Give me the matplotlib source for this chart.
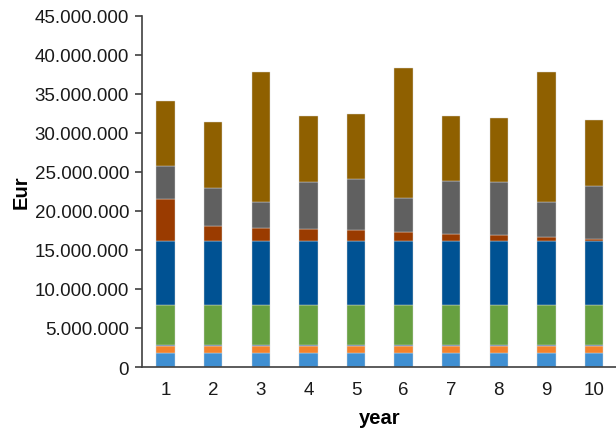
import matplotlib.pyplot as plt
import matplotlib.ticker as mticker
import numpy as np

plt.rcParams['font.family'] = ['Liberation Sans', 'DejaVu Sans']

years = [1, 2, 3, 4, 5, 6, 7, 8, 9, 10]

# cost components per year (Eur), bottom to top
light_blue = [1800000] * 10
orange = [950000] * 10
thin_blue = [100000] * 10
green = [5050000] * 10
blue = [8300000] * 10
brown = [5300000, 1800000, 1600000, 1500000, 1300000, 1050000, 850000, 700000, 470000, 250000]
grey = [4200000, 4900000, 3400000, 6060000, 6600000, 4350000, 6750000, 6800000, 4430000, 6800000]
gold = [8400000, 8450000, 16650000, 8340000, 8300000, 16700000, 8300000, 8250000, 16700000, 8350000]

series = [light_blue, orange, thin_blue, green, blue, brown, grey, gold]
colors = ['#3f8fd2', '#f5822a', '#2e5fa0', '#67a040', '#005293', '#9a3b00', '#606060', '#8f6000']

fig = plt.figure(figsize=(6.16, 4.35), dpi=100)
ax = fig.add_axes([0.230, 0.154, 0.773, 0.8076])

x = np.array(years)
bottom = np.zeros(len(years))
for vals, col in zip(series, colors):
    ax.bar(x, vals, width=0.385, bottom=bottom, color=col, edgecolor='#d8d8d8', linewidth=0.3)
    bottom += np.array(vals)

ax.set_xlim(0.5, 10.5)
ax.set_ylim(0, 45000000)
ax.set_yticks(np.arange(0, 45000001, 5000000))
ax.yaxis.set_major_formatter(mticker.FuncFormatter(lambda v, p: f'{int(v):,}'.replace(',', '.')))
ax.set_xticks(years)

for side in ['top', 'right']:
    ax.spines[side].set_visible(False)
for side in ['left', 'bottom']:
    ax.spines[side].set_color('#404040')
    ax.spines[side].set_linewidth(1.2)

ax.tick_params(axis='y', length=5, width=1.2, color='#404040', labelsize=13.5, labelcolor='#1a1a1a', pad=4)
ax.tick_params(axis='x', length=0, labelsize=13.5, labelcolor='#1a1a1a', pad=10)

ax.set_ylabel('Eur', fontsize=14.5, fontweight='bold', labelpad=3)
ax.set_xlabel('year', fontsize=14.5, fontweight='bold', labelpad=7)

fig.savefig('out.png', dpi=100)
